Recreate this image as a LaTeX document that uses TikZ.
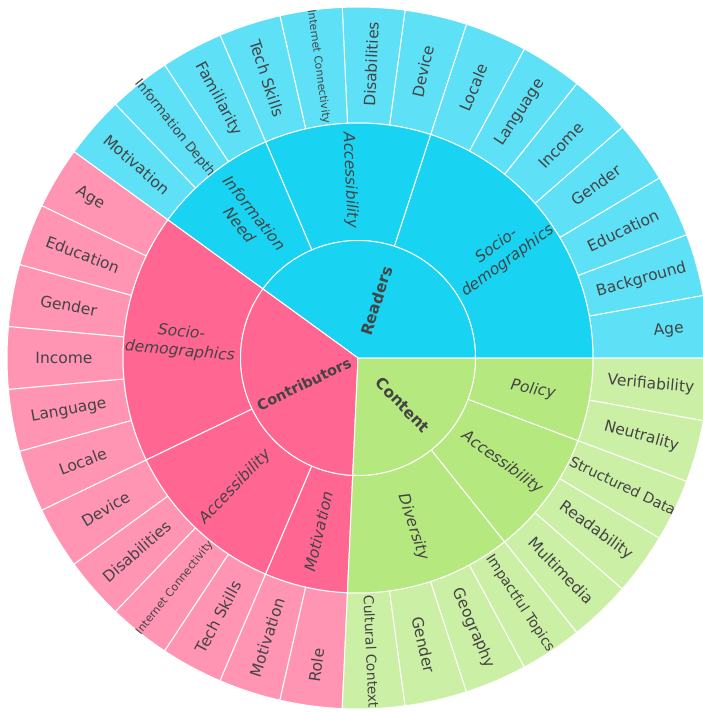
\documentclass[tikz,border=0pt]{standalone}
\usepackage{fontspec}
\setmainfont{DejaVu Sans}
\definecolor{cR}{HTML}{19D3F3}
\definecolor{cRl}{HTML}{5EE0F7}
\definecolor{cC}{HTML}{FF6692}
\definecolor{cCl}{HTML}{FF94B3}
\definecolor{cG}{HTML}{B6E880}
\definecolor{cGl}{HTML}{CCEFA6}
\definecolor{txt}{HTML}{444444}
\begin{document}
\begin{tikzpicture}[lab/.style={text=txt, inner sep=0pt, align=center},
  sep/.style={draw=white, line width=1pt}]
\useasboundingbox (-358pt,-354pt) rectangle (345pt,358pt);
\clip (-358pt,-354pt) rectangle (345pt,358pt);
% outer ring (leaves)
\foreach \ii/\col/\fs/\rr/\lbl in {
  0/cRl/15.5/312/Age, 1/cRl/15.5/294/Background, 2/cRl/15.5/294/Education,
  3/cRl/15.5/294/Gender, 4/cRl/15.5/294/Income, 5/cRl/15.5/294/Language,
  6/cRl/15.5/294/Locale, 7/cRl/15.5/294/Device, 8/cRl/15.5/294/Disabilities,
  9/cRl/10.8/294/Internet Connectivity, 10/cRl/15.5/294/Tech Skills,
  11/cRl/15.5/294/Familiarity, 12/cRl/13.1/294/Information Depth,
  13/cRl/15.5/294/Motivation,
  14/cCl/15.5/312/Age, 15/cCl/15.5/294/Education, 16/cCl/15.5/294/Gender,
  17/cCl/15.5/294/Income, 18/cCl/15.5/294/Language, 19/cCl/15.5/294/Locale,
  20/cCl/15.5/294/Device, 21/cCl/15.5/294/Disabilities,
  22/cCl/11.0/294/Internet Connectivity, 23/cCl/15.5/294/Tech Skills,
  24/cCl/15.5/294/Motivation, 25/cCl/15.5/310/Role,
  26/cGl/13.8/294/Cultural Context, 27/cGl/15.5/294/Gender,
  28/cGl/15.5/294/Geography, 29/cGl/14.0/294/Impactful Topics,
  30/cGl/15.5/294/Multimedia, 31/cGl/15.5/294/Readability,
  32/cGl/14.5/294/Structured Data, 33/cGl/15.5/294/Neutrality,
  34/cGl/15.5/294/Verifiability}{
  \pgfmathsetmacro\angA{\ii*360/35}
  \pgfmathsetmacro\angB{(\ii+1)*360/35}
  \pgfmathsetmacro\angM{(\ii+0.5)*360/35}
  \pgfmathsetmacro\rot{(\angM>90 && \angM<270) ? \angM-180 : \angM}
  \fill[\col, sep] (\angA:235pt) arc[start angle=\angA, end angle=\angB, radius=235pt]
     -- (\angB:351pt) arc[start angle=\angB, end angle=\angA, radius=351pt] -- cycle;
  \node[lab, rotate=\rot, font=\fontsize{\fs}{19}\selectfont] (leaf\ii) at (\angM:\rr pt) {\lbl};
}
% middle ring
\foreach \ia/\ib/\col/\lbl/\nm in {
  0/7/cR/{Socio-\\demographics}/mR1, 7/11/cR/Accessibility/mR2,
  11/14/cR/{Information\\Need}/mR3, 14/20/cC/{Socio-\\demographics}/mC1,
  20/24/cC/Accessibility/mC2, 24/26/cC/Motivation/mC3,
  26/30/cG/Diversity/mG1, 30/33/cG/Accessibility/mG2, 33/35/cG/Policy/mG3}{
  \pgfmathsetmacro\angA{\ia*360/35}
  \pgfmathsetmacro\angB{\ib*360/35}
  \pgfmathsetmacro\angM{(\ia+\ib)/2*360/35}
  \pgfmathsetmacro\rot{(\angM>90 && \angM<270) ? \angM-180 : \angM}
  \fill[\col, sep] (\angA:117.5pt) arc[start angle=\angA, end angle=\angB, radius=117.5pt]
     -- (\angB:235pt) arc[start angle=\angB, end angle=\angA, radius=235pt] -- cycle;
  \node[lab, rotate=\rot, font=\fontsize{15.5}{19}\selectfont\itshape] (\nm) at (\angM:178pt) {\lbl};
}
% inner ring
\foreach \ia/\ib/\col/\lbl/\nm/\rr/\fs in {
  0/14/cR/Readers/iR/60/15.5, 14/26/cC/Contributors/iC/60/14.4,
  26/35/cG/Content/iG/65/15.5}{
  \pgfmathsetmacro\angA{\ia*360/35}
  \pgfmathsetmacro\angB{\ib*360/35}
  \pgfmathsetmacro\angM{(\ia+\ib)/2*360/35}
  \pgfmathsetmacro\rot{(\angM>90 && \angM<270) ? \angM-180 : \angM}
  \fill[\col, sep] (0,0) -- (\angA:117.5pt) arc[start angle=\angA, end angle=\angB, radius=117.5pt] -- cycle;
  \node[lab, rotate=\rot, font=\fontsize{\fs}{19}\selectfont\bfseries] (\nm) at (\angM:\rr pt) {\lbl};
}
\end{tikzpicture}
\end{document}
